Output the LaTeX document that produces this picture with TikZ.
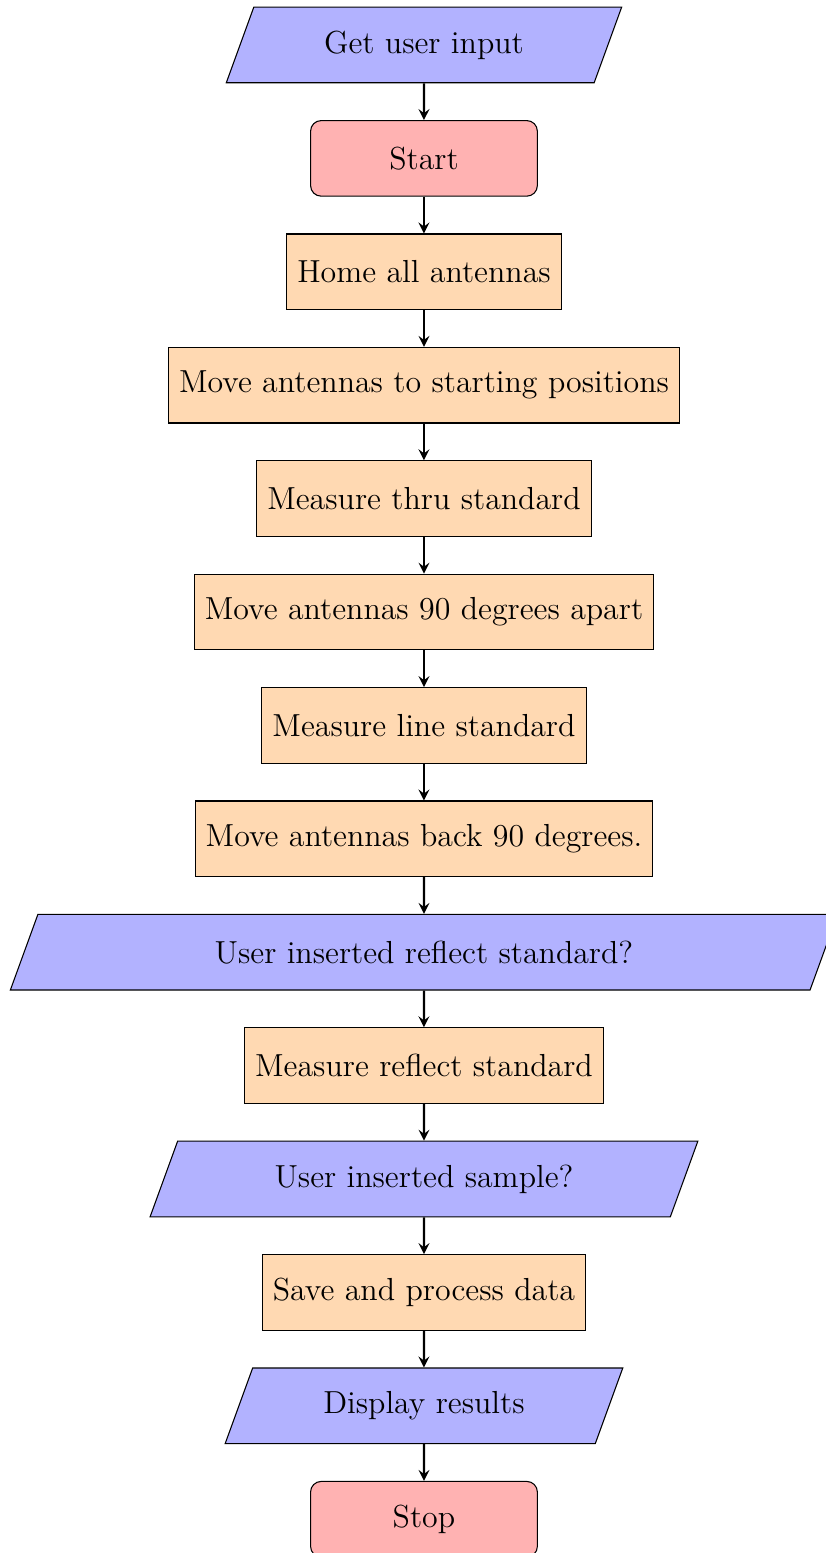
\documentclass[tikz,border=0pt,12pt]{standalone}
\usetikzlibrary{shapes.geometric,arrows}
\tikzset{
  startstop/.style={rectangle, rounded corners, minimum width=3cm, minimum height=1cm, text centered, draw=black, fill=red!30},
  io/.style={trapezium, trapezium left angle=70, trapezium right angle=110, minimum width=3cm, minimum height=1cm, inner ysep=3.85pt, text centered, draw=black, fill=blue!30},
  process/.style={rectangle, minimum width=3cm, minimum height=1cm, text centered, draw=black, fill=orange!30},
  arrow/.style={thick,->,>=stealth}
}
\begin{document}
\begin{tikzpicture}
\useasboundingbox (-5.608,0.595) rectangle (5.305,-19.947);
\node[io] (n0) at (0,0) {Get user input};
\node[startstop] (n1) at (0,-1.5) {Start};
\node[process] (n2) at (0,-3) {Home all antennas};
\node[process] (n3) at (0,-4.5) {Move antennas to starting positions};
\node[process] (n4) at (0,-6) {Measure thru standard};
\node[process] (n5) at (0,-7.5) {Move antennas 90 degrees apart};
\node[process] (n6) at (0,-9) {Measure line standard};
\node[process] (n7) at (0,-10.5) {Move antennas back 90 degrees.};
\node[io, inner ysep=3.75pt] (n8) at (0,-12) {User inserted reflect standard?};
\node[process] (n9) at (0,-13.5) {Measure reflect standard};
\node[io] (n10) at (0,-15) {User inserted sample?};
\node[process] (n11) at (0,-16.5) {Save and process data};
\node[io] (n12) at (0,-18) {Display results};
\node[startstop] (n13) at (0,-19.5) {Stop};
\foreach \a/\b in {n0/n1,n1/n2,n2/n3,n3/n4,n4/n5,n5/n6,n6/n7,n7/n8,n8/n9,n9/n10,n10/n11,n11/n12,n12/n13}
  \draw[arrow] (\a) -- (\b);
\end{tikzpicture}
\end{document}
